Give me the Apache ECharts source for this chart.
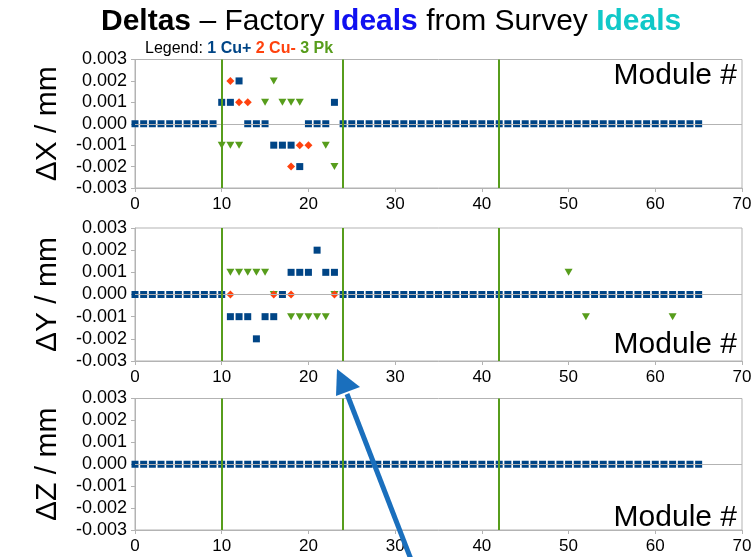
<!DOCTYPE html>
<html>
<head>
<meta charset="utf-8">
<script src="https://cdn.jsdelivr.net/npm/echarts@6/dist/echarts.min.js"></script>
<style>
html, body { margin: 0; padding: 0; background: #fff; }
#chart { width: 756px; height: 557px; }
</style>
</head>
<body>
<div id="chart"></div>
<script>
// module numbers along the x axis
var modules = [0, 1, 2, 3, 4, 5, 6, 7, 8, 9, 10, 11, 12, 13, 14, 15, 16, 17, 18, 19,
	20, 21, 22, 23, 24, 25, 26, 27, 28, 29, 30, 31, 32, 33, 34, 35, 36, 37, 38, 39,
	40, 41, 42, 43, 44, 45, 46, 47, 48, 49, 50, 51, 52, 53, 54, 55, 56, 57, 58, 59,
	60, 61, 62, 63, 64, 65];

// 1 Cu+ (one value per module, mm)
var cuPlusX = [0, 0, 0, 0, 0, 0, 0, 0, 0, 0, 0.001, 0.001, 0.002, 0, 0, 0, -0.001, -0.001, -0.001, -0.002,
	0, 0, 0, 0.001, 0, 0, 0, 0, 0, 0, 0, 0, 0, 0, 0, 0, 0, 0, 0, 0,
	0, 0, 0, 0, 0, 0, 0, 0, 0, 0, 0, 0, 0, 0, 0, 0, 0, 0, 0, 0,
	0, 0, 0, 0, 0, 0];
var cuPlusY = [0, 0, 0, 0, 0, 0, 0, 0, 0, 0, 0, -0.001, -0.001, -0.001, -0.002, -0.001, -0.001, 0, 0.001, 0.001,
	0.001, 0.002, 0.001, 0.001, 0, 0, 0, 0, 0, 0, 0, 0, 0, 0, 0, 0, 0, 0, 0, 0,
	0, 0, 0, 0, 0, 0, 0, 0, 0, 0, 0, 0, 0, 0, 0, 0, 0, 0, 0, 0,
	0, 0, 0, 0, 0, 0];
var cuPlusZ = [0, 0, 0, 0, 0, 0, 0, 0, 0, 0, 0, 0, 0, 0, 0, 0, 0, 0, 0, 0,
	0, 0, 0, 0, 0, 0, 0, 0, 0, 0, 0, 0, 0, 0, 0, 0, 0, 0, 0, 0,
	0, 0, 0, 0, 0, 0, 0, 0, 0, 0, 0, 0, 0, 0, 0, 0, 0, 0, 0, 0,
	0, 0, 0, 0, 0, 0];

// 2 Cu- ([module, delta])
var cuMinusX = [[11, 0.002], [12, 0.001], [13, 0.001], [18, -0.002], [19, -0.001], [20, -0.001]];
var cuMinusY = [[11, 0], [16, 0], [18, 0], [23, 0]];
var cuMinusZ = [];

// 3 Pk ([module, delta])
var pkX = [[10, -0.001], [11, -0.001], [12, -0.001], [15, 0.001], [16, 0.002], [17, 0.001],
	[18, 0.001], [19, 0.001], [22, -0.001], [23, -0.002]];
var pkY = [[11, 0.001], [12, 0.001], [13, 0.001], [14, 0.001], [15, 0.001], [16, 0],
	[18, -0.001], [19, -0.001], [20, -0.001], [21, -0.001], [22, -0.001], [23, 0],
	[50, 0.001], [52, -0.001], [62, -0.001]];
var pkZ = [];

// green vertical marker lines
var boundaries = [10, 24, 42];
var axisNames = ['ΔX / mm', 'ΔY / mm', 'ΔZ / mm'];

var FONT = 'Liberation Sans';
var grey = '#b3b3b3';
var blue = '#004586', orange = '#ff420e', green = '#579d1c';

var chart = echarts.init(document.getElementById('chart'));

var grids = [
	{ left: 135, width: 607, top: 59.5, height: 128.5 },
	{ left: 135, width: 607, top: 228, height: 133 },
	{ left: 135, width: 607, top: 398.5, height: 131.5 }
];
grids.forEach(function(g) {
	g.show = true;
	g.borderColor = grey;
	g.borderWidth = 1;
});

var xAxes = [], yAxes = [], series = [];
var plus = [cuPlusX, cuPlusY, cuPlusZ];
var minus = [cuMinusX, cuMinusY, cuMinusZ];
var pk = [pkX, pkY, pkZ];

for (var i = 0; i < 3; ++i) {
	xAxes.push({
		gridIndex: i, type: 'value', min: 0, max: 70, interval: 10,
		axisLine: { onZero: false, lineStyle: { color: grey } },
		axisTick: { show: true, length: 4, lineStyle: { color: grey } },
		axisLabel: { color: '#000', fontSize: 17, fontFamily: FONT, margin: 8 },
		splitLine: { show: false }
	});
	yAxes.push({
		gridIndex: i, type: 'value', min: -0.003, max: 0.003, interval: 0.001,
		name: axisNames[i], nameLocation: 'middle', nameGap: 72,
		nameTextStyle: { color: '#000', fontSize: 30, fontFamily: FONT },
		axisLine: { show: true, lineStyle: { color: grey } },
		axisTick: { show: true, length: 4, lineStyle: { color: grey } },
		axisLabel: {
			color: '#000', fontSize: 18, fontFamily: FONT, margin: 8,
			formatter: function(v) { return (Math.abs(v) < 1e-9 ? 0 : v).toFixed(3); }
		},
		splitLine: { show: false }
	});

	// zero line + module boundaries
	var lines = [{ yAxis: 0, lineStyle: { color: grey, width: 1 } }];
	boundaries.forEach(function(b) {
		lines.push({ xAxis: b, lineStyle: { color: green, width: 2 } });
	});
	series.push({
		type: 'scatter', xAxisIndex: i, yAxisIndex: i, data: [], z: 1, silent: true,
		markLine: { silent: true, symbol: 'none', label: { show: false }, lineStyle: { type: 'solid' }, data: lines }
	});

	series.push({
		name: 'Pk', type: 'scatter', xAxisIndex: i, yAxisIndex: i, z: 2, silent: true,
		symbol: 'triangle', symbolRotate: 180, symbolSize: [8, 7],
		itemStyle: { color: green, opacity: 1 }, data: pk[i]
	});
	series.push({
		name: 'Cu-', type: 'scatter', xAxisIndex: i, yAxisIndex: i, z: 3, silent: true,
		symbol: 'diamond', symbolSize: [8, 8],
		itemStyle: { color: orange, opacity: 1 }, data: minus[i]
	});
	series.push({
		name: 'Cu+', type: 'scatter', xAxisIndex: i, yAxisIndex: i, z: 4, silent: true,
		symbol: 'rect', symbolSize: 7,
		itemStyle: { color: blue, opacity: 1 },
		data: modules.map(function(m, k) { return [m, plus[i][k]]; })
	});
}

// "Module #" labels inside each plot
var moduleLabelY = [76, 345, 518];
var graphics = moduleLabelY.map(function(y) {
	return {
		type: 'text', z: 10, silent: true,
		style: { text: 'Module #', x: 737, y: y, align: 'right', verticalAlign: 'middle', fontSize: 30, fontFamily: FONT, fill: '#000' }
	};
});

// blue annotation arrow
graphics.push({
	type: 'line', z: 20, silent: true,
	shape: { x1: 412, y1: 562, x2: 347, y2: 394 },
	style: { stroke: '#1a6fbd', lineWidth: 5 }
});
graphics.push({
	type: 'polygon', z: 20, silent: true,
	shape: { points: [[337, 369], [360, 387], [336, 396]] },
	style: { fill: '#1a6fbd' }
});

var option = {
	animation: false,
	title: [{
		left: 101, top: 7, padding: 0,
		text: '{b|Deltas} – Factory {bl|Ideals} from Survey {cy|Ideals}',
		textStyle: {
			fontFamily: FONT, fontSize: 30, fontWeight: 'normal', color: '#000',
			rich: {
				b: { fontFamily: FONT, fontSize: 30, fontWeight: 'bold', color: '#000' },
				bl: { fontFamily: FONT, fontSize: 30, fontWeight: 'bold', color: '#1010f0' },
				cy: { fontFamily: FONT, fontSize: 30, fontWeight: 'bold', color: '#10c8c8' }
			}
		}
	}, {
		left: 145, top: 41, padding: 0,
		text: 'Legend: {a|1 Cu+} {c|2 Cu-} {p|3 Pk}',
		textStyle: {
			fontFamily: FONT, fontSize: 16, fontWeight: 'normal', color: '#000',
			rich: {
				a: { fontFamily: FONT, fontSize: 16, fontWeight: 'bold', color: blue },
				c: { fontFamily: FONT, fontSize: 16, fontWeight: 'bold', color: orange },
				p: { fontFamily: FONT, fontSize: 16, fontWeight: 'bold', color: green }
			}
		}
	}],
	grid: grids,
	xAxis: xAxes,
	yAxis: yAxes,
	series: series,
	graphic: graphics
};

chart.setOption(option);
</script>
</body>
</html>
